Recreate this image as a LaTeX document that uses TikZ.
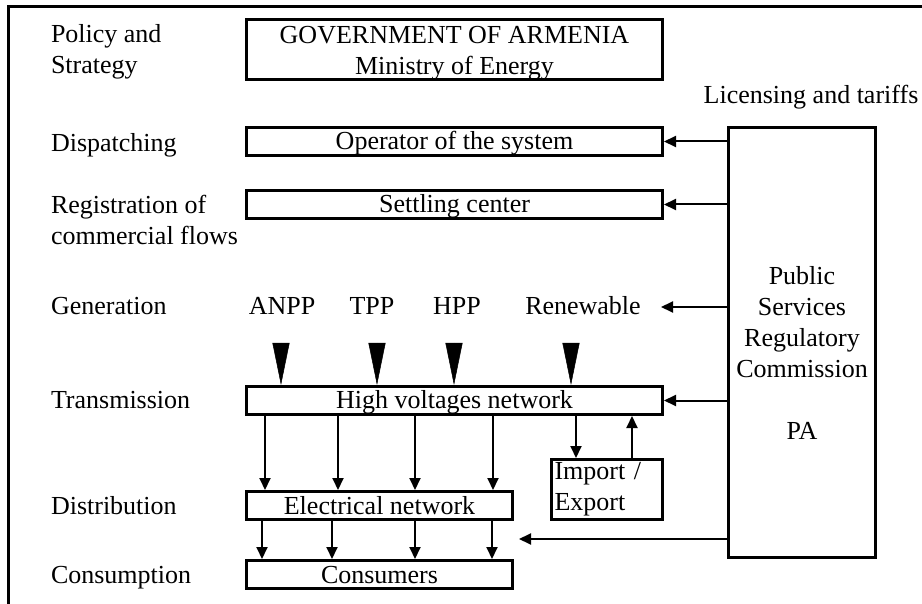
\documentclass[tikz,border=0pt]{standalone}
\usepackage{fontspec}
\setmainfont{Liberation Serif}
\usetikzlibrary{arrows.meta}

\begin{document}
\begin{tikzpicture}[>={Triangle[length=12pt,width=11pt]}, x=1pt, y=-1pt,
    font=\fontsize{26}{31}\selectfont, line width=2pt,
    box/.style={draw, line width=3pt, inner sep=0pt},
    onerow/.style={box, text height=18pt, text depth=1pt, minimum height=28pt},
    level/.style={inner sep=0pt, anchor=base west},
    source/.style={inner sep=0pt, anchor=base},
    feed/.style={-{Triangle[length=42pt,width=17pt]}, line width=0.5pt, shorten <=27pt}]
    \useasboundingbox (0,0) rectangle (922,604);
    % Frame
    \draw [line width=3pt] (922,7) -- (8,7) -- (8,604);

    % Levels {policy, disp, reg, etc}
    \node [level, anchor=west, align=left] (policy) at (50,52)  {Policy and\\Strategy};
    \node [level]                          (disp)   at (50,152) {Dispatching};
    \node [level, anchor=west, align=left] (reg)    at (50,220) {Registration of\\commercial flows};
    \node [level]                          (gen)    at (50,315) {Generation};
    \node [level]                          (trans)  at (50,409) {Transmission};
    \node [level]                          (dist)   at (50,514) {Distribution};
    \node [level]                          (cons)   at (50,583) {Consumption};

    % Boxes
    \node [box, minimum width=416pt, minimum height=60pt, align=center] (gov) at (454.5,49.5) {\rule{0pt}{24pt}GOVERNMENT OF ARMENIA\\Ministry of Energy};
    \node [onerow, minimum width=416pt] (sysop)  at (454.5,141.5) {Operator of the system};
    \node [onerow, minimum width=416pt] (settle) at (454.5,204.5) {Settling center};
    \node [onerow, minimum width=416pt] (hvnet)  at (454.5,400.5) {High voltages network};
    \node [onerow, minimum width=266pt] (elnet)  at (379.5,505.5) {Electrical network};
    \node [onerow, minimum width=266pt] (users)  at (379.5,574.5) {Consumers};
    \node [box, minimum width=111pt, minimum height=60pt, text width=105pt, align=left] (impexp) at (607,489.5) {Import /\\Export};
    \node [box, minimum width=147pt, minimum height=430pt] (psrc) at (802,342.5) {};
    \node [align=center, inner sep=0pt] (psrctxt) at (802,353) {Public\\Services\\Regulatory\\Commission\\[31pt]PA};
    \node [source] (lic) at (811,104) {Licensing and tariffs};

    % Generation {anpp, tpp, hpp, renew}
    \node [source] (anpp)  at (282,315) {ANPP};
    \node [source] (tpp)   at (372,315) {TPP};
    \node [source] (hpp)   at (457,315) {HPP};
    \node [source] (renew) at (583,315) {Renewable};

    \coordinate (rentip) at (661,307);
    \coordinate (usetip) at (519,539);

    % Paths
    \path [feed] ([xshift=-1pt]anpp.south)  edge ([xshift=-1pt]anpp.south |- hvnet.north);
    \path [feed] ([xshift=5pt]tpp.south)    edge ([xshift=5pt]tpp.south |- hvnet.north);
    \path [feed] ([xshift=-3pt]hpp.south)   edge ([xshift=-3pt]hpp.south |- hvnet.north);
    \path [feed] ([xshift=-12pt]renew.south) edge ([xshift=-12pt]renew.south |- hvnet.north);

    \path [->] (sysop.east -| psrc.west)  edge (sysop.east);
    \path [->] (settle.east -| psrc.west) edge (settle.east);
    \path [->] (rentip -| psrc.west)      edge (rentip);
    \path [->] (hvnet.east -| psrc.west)  edge (hvnet.east);
    \path [->] (usetip -| psrc.west)      edge (usetip);

    \path [->] ([xshift=20pt]hvnet.south west)  edge ([xshift=20pt]elnet.north west);
    \path [->] ([xshift=93pt]hvnet.south west)  edge ([xshift=93pt]elnet.north west);
    \path [->] ([xshift=170pt]hvnet.south west) edge ([xshift=170pt]elnet.north west);
    \path [->] ([xshift=248pt]hvnet.south west) edge ([xshift=248pt]elnet.north west);

    \path [->] ([xshift=17pt]elnet.south west)  edge ([xshift=17pt]users.north west);
    \path [->] ([xshift=87pt]elnet.south west)  edge ([xshift=87pt]users.north west);
    \path [->] ([xshift=170pt]elnet.south west) edge ([xshift=170pt]users.north west);
    \path [->] ([xshift=247pt]elnet.south west) edge ([xshift=247pt]users.north west);

    \path [->] ([xshift=-31pt]impexp.north |- hvnet.south) edge ([xshift=-31pt]impexp.north);
    \path [->] ([xshift=25pt]impexp.north) edge ([xshift=25pt]impexp.north |- hvnet.south);
\end{tikzpicture}
\end{document}
